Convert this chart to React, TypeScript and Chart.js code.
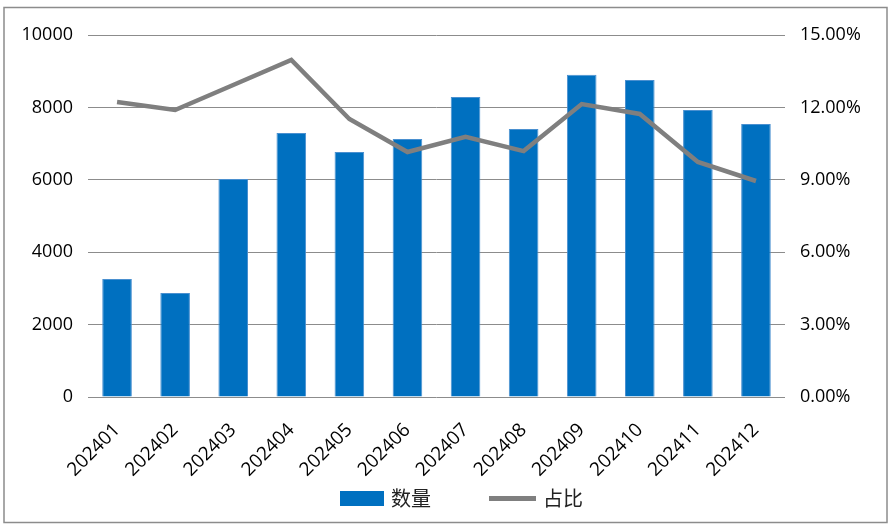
import React, { useEffect, useRef } from 'react';
import { Chart, registerables } from 'chart.js';

Chart.register(...registerables);

const categories = ['202401', '202402', '202403', '202404', '202405', '202406', '202407', '202408', '202409', '202410', '202411', '202412'];
const quantity = [3260, 2870, 6020, 7290, 6770, 7130, 8290, 7400, 8900, 8760, 7930, 7540];
const sharePct = [12.22, 11.89, 12.93, 13.97, 11.52, 10.15, 10.78, 10.19, 12.14, 11.73, 9.74, 8.95];
const leftMax = 10000;
const leftStep = 2000;
const rightMax = 15;
const rightStep = 3;
const seriesNames = ['数量', '占比'];

const BAR_COLOR = '#0070C0';
const LINE_COLOR = '#7f7f7f';
const FONT = "'Open Sans', 'Liberation Sans', sans-serif";
const CJK_FONT = "'Noto Sans CJK SC', sans-serif";

const framePlugin = {
  id: 'frame',
  beforeDraw(chart: any) {
    const ctx = chart.ctx;
    ctx.save();
    ctx.fillStyle = '#ffffff';
    ctx.fillRect(0, 0, chart.width, chart.height);
    ctx.strokeStyle = '#8c8c8c';
    ctx.lineWidth = 1.5;
    ctx.strokeRect(4, 7.5, 883, 515);
    ctx.restore();
  },
  afterDraw(chart: any) {
    const ctx = chart.ctx;
    ctx.save();
    // legend
    ctx.fillStyle = BAR_COLOR;
    ctx.fillRect(340, 491, 44, 15);
    ctx.strokeStyle = LINE_COLOR;
    ctx.lineWidth = 5;
    ctx.beginPath();
    ctx.moveTo(489, 498.5);
    ctx.lineTo(536, 498.5);
    ctx.stroke();
    ctx.fillStyle = '#222222';
    ctx.font = `20px ${CJK_FONT}`;
    ctx.textBaseline = 'middle';
    ctx.textAlign = 'left';
    ctx.fillText(seriesNames[0], 391, 498);
    ctx.fillText(seriesNames[1], 543, 498);
    ctx.restore();
  },
};

export default function App() {
  const ref = useRef<HTMLCanvasElement | null>(null);

  useEffect(() => {
    if (!ref.current) return;
    const chart = new Chart(ref.current, {
      type: 'bar',
      data: {
        labels: categories,
        datasets: [
          {
            type: 'line',
            label: seriesNames[1],
            data: sharePct,
            yAxisID: 'y1',
            borderColor: LINE_COLOR,
            backgroundColor: LINE_COLOR,
            borderWidth: 4.5,
            pointRadius: 0,
            tension: 0,
            order: 0,
          } as any,
          {
            type: 'bar',
            label: seriesNames[0],
            data: quantity,
            yAxisID: 'y',
            backgroundColor: BAR_COLOR,
            borderColor: '#4a90d0',
            borderWidth: 1,
            barPercentage: 0.51,
            categoryPercentage: 1,
            order: 1,
          } as any,
        ],
      },
      options: {
        animation: false,
        responsive: false,
        maintainAspectRatio: false,
        layout: { padding: { top: 35, left: 0, right: 0, bottom: 0 } },
        plugins: {
          legend: { display: false },
          tooltip: { enabled: false },
        },
        scales: {
          x: {
            grid: { display: false, drawTicks: false },
            border: { display: false },
            ticks: {
              color: '#000',
              font: { family: FONT, size: 19 },
              minRotation: 45,
              maxRotation: 45,
              padding: 22,
            },
            afterFit(s: any) {
              s.height = 526 - 397;
            },
          },
          y: {
            position: 'left',
            min: 0,
            max: leftMax,
            grid: { color: '#8c8c8c', lineWidth: 1, drawTicks: false },
            border: { display: false },
            ticks: {
              stepSize: leftStep,
              color: '#000',
              font: { family: FONT, size: 18 },
              padding: 15,
              callback: (v: any) => String(v),
            },
            afterFit(s: any) {
              s.width = 88;
            },
          },
          y1: {
            position: 'right',
            min: 0,
            max: rightMax,
            grid: { display: false, drawTicks: false },
            border: { display: false },
            ticks: {
              stepSize: rightStep,
              color: '#000',
              font: { family: FONT, size: 18 },
              padding: 15,
              callback: (v: any) => Number(v).toFixed(2) + '%',
            },
            afterFit(s: any) {
              s.width = 892 - 785;
            },
          },
        },
      },
      plugins: [framePlugin],
    });
    return () => chart.destroy();
  }, []);

  return (
    <div style={{ position: 'fixed', left: 0, top: 0, width: 892, height: 526, background: '#fff' }}>
      <canvas ref={ref} width={892} height={526} style={{ width: 892, height: 526, display: 'block' }} />
    </div>
  );
}
